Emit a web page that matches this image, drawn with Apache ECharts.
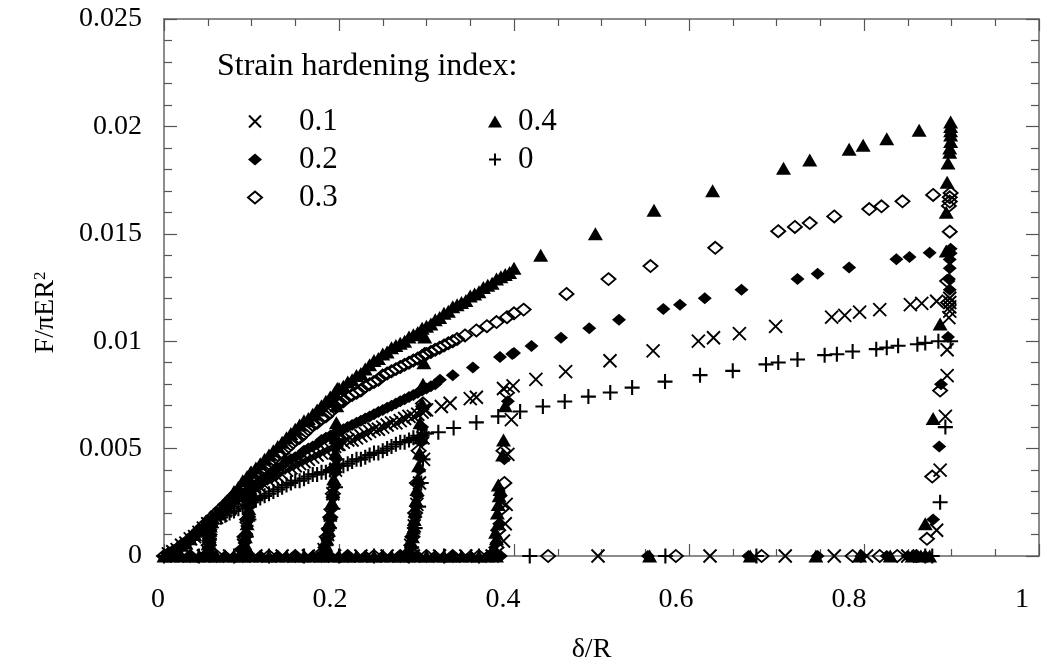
<!DOCTYPE html>
<html><head><meta charset="utf-8">
<script src="https://cdn.jsdelivr.net/npm/echarts@6/dist/echarts.min.js"></script>
<style>html,body{margin:0;padding:0;background:#fff}#c{width:1047px;height:669px}</style>
</head><body><div id="c"></div>
<script>
const FONT = '"Liberation Serif", "Times New Roman", serif';
const seriesNames = ['0.1', '0.2', '0.3', '0.4', '0'];
const legendTitle = 'Strain hardening index:';
const xTickLabels = ['0', '0.2', '0.4', '0.6', '0.8', '1'];

// n = 0.1 (×)
const load01 = [[0.005,0.0001],[0.01,0.0002],[0.02,0.0005],[0.03,0.0008],[0.04,0.0011],[0.05,0.0015],[0.06,0.0018],[0.07,0.0021],[0.08,0.0024],[0.09,0.0027],[0.10,0.0030],[0.11,0.0032],[0.12,0.0035],[0.13,0.0037],[0.14,0.0040],[0.15,0.0042],[0.16,0.0044],[0.17,0.0046],[0.18,0.0048],[0.19,0.0050],[0.20,0.0052],[0.21,0.0054],[0.22,0.0055],[0.23,0.0057],[0.24,0.0059],[0.25,0.0060],[0.26,0.0062],[0.27,0.0063],[0.28,0.0065],[0.29,0.0066],[0.30,0.0068],[0.317,0.00696],[0.327,0.00711],[0.350,0.00733],[0.357,0.00739],[0.388,0.0078],[0.399,0.00792],[0.425,0.00822],[0.459,0.00858],[0.5097,0.00909],[0.559,0.00955],[0.6107,0.0100],[0.628,0.01016],[0.6576,0.01035],[0.699,0.01069],[0.763,0.01112],[0.778,0.0112],[0.795,0.01135],[0.818,0.01147],[0.853,0.0117],[0.866,0.01176],[0.883,0.01186]];
const loadFine01 = [[0.015,0.0003],[0.025,0.0006],[0.035,0.0009],[0.045,0.0013],[0.055,0.0016],[0.065,0.0019],[0.075,0.0022],[0.085,0.0025],[0.095,0.0028],[0.105,0.0031],[0.115,0.0033],[0.125,0.0036],[0.135,0.0038],[0.145,0.0041],[0.155,0.0043],[0.165,0.0045],[0.175,0.0047],[0.185,0.0049],[0.195,0.0051],[0.205,0.0053],[0.215,0.0054],[0.225,0.0056],[0.235,0.0058],[0.245,0.0059],[0.255,0.0061],[0.265,0.0062],[0.275,0.0064],[0.285,0.0065],[0.295,0.0067]];
const unload01 = [[0.053,0.0015],[0.052,0.0009],[0.051,0.0004],[0.099,0.0030],[0.097,0.0021],[0.094,0.0013],[0.091,0.0005],[0.198,0.0052],[0.196,0.0040],[0.193,0.0029],[0.190,0.0019],[0.187,0.0010],[0.183,0.0003],[0.298,0.0068],[0.296,0.0055],[0.2966,0.0045],[0.292,0.0034],[0.289,0.0024],[0.286,0.0014],[0.282,0.0005],[0.397,0.00635],[0.393,0.00473],[0.391,0.0024],[0.390,0.0015],[0.388,0.0007],[0.898,0.0120],[0.898,0.0118],[0.898,0.0116],[0.898,0.0114],[0.897,0.0111],[0.895,0.0096],[0.895,0.0084],[0.893,0.0065],[0.887,0.0040],[0.883,0.0012]];
const zero01 = [[0.015,0],[0.045,0],[0.075,0],[0.105,0],[0.135,0],[0.165,0],[0.195,0],[0.225,0],[0.255,0],[0.285,0],[0.315,0],[0.345,0],[0.375,0],[0.496,0],[0.624,0],[0.710,0],[0.766,0],[0.803,0],[0.850,0]];

// n = 0.2 (filled diamond)
const load02 = [[0.005,0.0001],[0.01,0.0002],[0.02,0.0005],[0.03,0.0008],[0.04,0.0012],[0.05,0.0015],[0.06,0.0019],[0.07,0.0022],[0.08,0.0026],[0.09,0.0029],[0.10,0.0032],[0.11,0.0035],[0.12,0.0038],[0.13,0.0041],[0.14,0.0044],[0.15,0.0046],[0.16,0.0049],[0.17,0.0051],[0.18,0.0054],[0.19,0.0056],[0.20,0.0058],[0.21,0.0060],[0.22,0.0062],[0.23,0.0064],[0.24,0.0066],[0.25,0.0068],[0.26,0.0070],[0.27,0.0072],[0.28,0.0074],[0.29,0.0076],[0.30,0.0078],[0.305,0.0079],[0.31,0.0080],[0.3154,0.0082],[0.330,0.00842],[0.353,0.00878],[0.384,0.00927],[0.400,0.00945],[0.420,0.00978],[0.4537,0.01016],[0.486,0.0106],[0.520,0.0110],[0.5707,0.0115],[0.5897,0.0117],[0.618,0.0120],[0.660,0.0124],[0.724,0.01289],[0.747,0.01314],[0.783,0.01343],[0.837,0.01381],[0.852,0.01392],[0.875,0.01412]];
const loadFine02 = [[0.015,0.0003],[0.025,0.0006],[0.035,0.0010],[0.045,0.0013],[0.055,0.0017],[0.065,0.0020],[0.075,0.0024],[0.085,0.0027],[0.095,0.0030],[0.105,0.0033],[0.115,0.0036],[0.125,0.0039],[0.135,0.0042],[0.145,0.0045],[0.155,0.0047],[0.165,0.0050],[0.175,0.0052],[0.185,0.0055],[0.195,0.0057],[0.205,0.0059],[0.215,0.0061],[0.225,0.0063],[0.235,0.0065],[0.245,0.0067],[0.255,0.0069],[0.265,0.0071],[0.275,0.0073],[0.285,0.0075],[0.295,0.0077]];
const unload02 = [[0.053,0.0015],[0.0525,0.0012],[0.052,0.0009],[0.0515,0.0006],[0.051,0.0004],[0.099,0.0032],[0.0985,0.0027],[0.098,0.0023],[0.097,0.0018],[0.095,0.0014],[0.094,0.0010],[0.092,0.0006],[0.090,0.0003],[0.198,0.0058],[0.1975,0.0051],[0.197,0.0045],[0.196,0.0039],[0.195,0.0033],[0.193,0.0027],[0.192,0.0022],[0.190,0.0017],[0.188,0.0012],[0.186,0.0008],[0.183,0.0004],[0.297,0.0078],[0.296,0.0069],[0.295,0.0060],[0.294,0.0053],[0.293,0.0046],[0.292,0.0040],[0.291,0.0034],[0.290,0.0028],[0.288,0.0023],[0.287,0.0018],[0.285,0.0013],[0.283,0.0009],[0.281,0.0005],[0.398,0.0094],[0.393,0.0072],[0.389,0.0045],[0.385,0.0028],[0.383,0.0015],[0.380,0.0006],[0.899,0.0143],[0.899,0.0141],[0.898,0.0138],[0.898,0.0134],[0.897,0.0129],[0.898,0.0124],[0.896,0.0102],[0.888,0.0080],[0.886,0.0051],[0.879,0.0017]];
const zero02 = [[0.01,0],[0.03,0],[0.05,0],[0.07,0],[0.09,0],[0.11,0],[0.13,0],[0.15,0],[0.17,0],[0.19,0],[0.21,0],[0.23,0],[0.25,0],[0.27,0],[0.29,0],[0.31,0],[0.33,0],[0.35,0],[0.37,0],[0.385,0],[0.553,0],[0.668,0],[0.747,0],[0.797,0],[0.826,0],[0.850,0],[0.860,0],[0.870,0]];

// n = 0.3 (open diamond)
const load03 = [[0.005,0.0001],[0.01,0.0002],[0.02,0.0005],[0.03,0.0008],[0.04,0.0012],[0.05,0.0016],[0.06,0.0020],[0.07,0.0024],[0.08,0.0028],[0.09,0.0032],[0.10,0.0036],[0.11,0.0039],[0.12,0.0043],[0.13,0.0047],[0.14,0.0050],[0.15,0.0054],[0.16,0.0057],[0.17,0.0061],[0.18,0.0064],[0.19,0.0067],[0.20,0.0071],[0.21,0.0074],[0.22,0.0076],[0.23,0.0079],[0.24,0.0081],[0.25,0.0084],[0.26,0.0086],[0.27,0.0088],[0.28,0.0090],[0.29,0.0092],[0.30,0.0094],[0.31,0.0096],[0.32,0.0098],[0.33,0.0100],[0.344,0.01027],[0.357,0.0105],[0.369,0.0107],[0.380,0.01089],[0.392,0.01112],[0.400,0.0113],[0.411,0.01147],[0.460,0.0122],[0.508,0.01289],[0.556,0.0135],[0.630,0.01435],[0.702,0.01512],[0.721,0.01532],[0.738,0.0155],[0.766,0.01581],[0.806,0.01615],[0.820,0.01628],[0.844,0.01651],[0.879,0.01681]];
const loadFine03 = [[0.015,0.0003],[0.025,0.0006],[0.035,0.0010],[0.045,0.0014],[0.055,0.0018],[0.065,0.0022],[0.075,0.0026],[0.085,0.0030],[0.095,0.0034],[0.105,0.0037],[0.115,0.0041],[0.125,0.0045],[0.135,0.0048],[0.145,0.0052],[0.155,0.0055],[0.165,0.0059],[0.175,0.0062],[0.185,0.0065],[0.195,0.0069],[0.205,0.0072],[0.215,0.0075],[0.225,0.0077],[0.235,0.0080],[0.245,0.0082],[0.255,0.0085],[0.265,0.0087],[0.275,0.0089],[0.285,0.0091],[0.295,0.0093],[0.305,0.0095],[0.315,0.0097],[0.325,0.0099],[0.335,0.0101]];
const unload03 = [[0.053,0.0016],[0.052,0.0010],[0.051,0.0005],[0.050,0.0001],[0.099,0.0036],[0.097,0.0026],[0.095,0.0017],[0.092,0.0009],[0.089,0.0003],[0.198,0.0071],[0.197,0.0055],[0.195,0.0041],[0.193,0.0029],[0.190,0.0018],[0.186,0.0009],[0.182,0.0002],[0.298,0.0094],[0.296,0.0071],[0.294,0.0055],[0.291,0.0049],[0.289,0.0034],[0.287,0.0020],[0.284,0.0009],[0.281,0.0002],[0.392,0.0076],[0.388,0.0049],[0.389,0.0034],[0.386,0.0022],[0.382,0.0012],[0.380,0.0004],[0.899,0.0169],[0.898,0.0167],[0.898,0.0165],[0.897,0.0163],[0.898,0.0151],[0.895,0.0128],[0.896,0.0118],[0.887,0.0077],[0.878,0.0037],[0.872,0.0008]];
const zero03 = [[0.00,0],[0.03,0],[0.06,0],[0.09,0],[0.12,0],[0.15,0],[0.18,0],[0.21,0],[0.24,0],[0.27,0],[0.30,0],[0.33,0],[0.36,0],[0.439,0],[0.585,0],[0.683,0],[0.787,0],[0.818,0],[0.838,0],[0.860,0]];

// n = 0.4 (filled triangle)
const load04 = [[0.005,0.0001],[0.01,0.0002],[0.02,0.0005],[0.03,0.0008],[0.04,0.0012],[0.05,0.0016],[0.06,0.0020],[0.07,0.0025],[0.08,0.0030],[0.09,0.0035],[0.10,0.0039],[0.11,0.0043],[0.12,0.0047],[0.13,0.0051],[0.14,0.0055],[0.15,0.0059],[0.16,0.0063],[0.17,0.0066],[0.18,0.0070],[0.19,0.0074],[0.20,0.0078],[0.21,0.0081],[0.22,0.0084],[0.23,0.0087],[0.24,0.0091],[0.25,0.0094],[0.26,0.0097],[0.27,0.0099],[0.28,0.0102],[0.29,0.0104],[0.30,0.0107],[0.31,0.0110],[0.32,0.0113],[0.33,0.0116],[0.34,0.0118],[0.35,0.0121],[0.36,0.0123],[0.37,0.0126],[0.38,0.0129],[0.39,0.0131],[0.40,0.0134],[0.4305,0.0140],[0.493,0.0150],[0.560,0.0161],[0.627,0.0170],[0.708,0.01805],[0.738,0.01843],[0.783,0.01894],[0.799,0.01912],[0.826,0.01943],[0.863,0.01982]];
const loadFine04 = [[0.015,0.0003],[0.025,0.0006],[0.035,0.0010],[0.045,0.0014],[0.055,0.0018],[0.065,0.0022],[0.075,0.0027],[0.085,0.0032],[0.095,0.0037],[0.105,0.0041],[0.115,0.0045],[0.125,0.0049],[0.135,0.0053],[0.145,0.0057],[0.155,0.0061],[0.165,0.0064],[0.175,0.0068],[0.185,0.0072],[0.195,0.0076],[0.205,0.0079],[0.215,0.0082],[0.225,0.0085],[0.235,0.0089],[0.245,0.0092],[0.255,0.0095],[0.265,0.0098],[0.275,0.0100],[0.285,0.0103],[0.295,0.0106],[0.305,0.0108],[0.315,0.0111],[0.325,0.0114],[0.335,0.0117],[0.345,0.0119],[0.355,0.0122],[0.365,0.0125],[0.375,0.0127],[0.385,0.0130],[0.395,0.0132]];
const unload04 = [[0.053,0.0016],[0.053,0.0014],[0.0525,0.0012],[0.052,0.0010],[0.052,0.0008],[0.0515,0.0006],[0.051,0.0004],[0.050,0.0002],[0.050,0.0001],[0.099,0.0039],[0.0985,0.0034],[0.098,0.0030],[0.0975,0.0026],[0.097,0.0022],[0.096,0.0019],[0.095,0.0015],[0.094,0.0012],[0.093,0.0009],[0.092,0.0006],[0.091,0.0004],[0.090,0.0001],[0.198,0.0078],[0.1975,0.0070],[0.197,0.0062],[0.1965,0.0055],[0.196,0.0048],[0.195,0.0042],[0.194,0.0036],[0.193,0.0030],[0.192,0.0025],[0.190,0.0020],[0.189,0.0016],[0.188,0.0012],[0.186,0.0008],[0.185,0.0005],[0.183,0.0003],[0.298,0.0102],[0.297,0.0090],[0.296,0.0080],[0.295,0.0071],[0.2926,0.0062],[0.293,0.0055],[0.292,0.0048],[0.291,0.0042],[0.290,0.0036],[0.289,0.0031],[0.288,0.0026],[0.287,0.0021],[0.286,0.0017],[0.285,0.0013],[0.284,0.0009],[0.283,0.0006],[0.281,0.0003],[0.390,0.0070],[0.388,0.0054],[0.387,0.0047],[0.382,0.0033],[0.384,0.0031],[0.383,0.0028],[0.382,0.0024],[0.381,0.0020],[0.382,0.0015],[0.379,0.0011],[0.380,0.0008],[0.377,0.0004],[0.899,0.0202],[0.899,0.0200],[0.899,0.0198],[0.899,0.0196],[0.899,0.0193],[0.898,0.0190],[0.898,0.0188],[0.896,0.0183],[0.895,0.0174],[0.894,0.0160],[0.894,0.0142],[0.887,0.0108],[0.879,0.0064],[0.870,0.0015]];
const zero04 = [[0.00,0],[0.01,0],[0.02,0],[0.03,0],[0.04,0],[0.05,0],[0.06,0],[0.07,0],[0.08,0],[0.09,0],[0.10,0],[0.11,0],[0.12,0],[0.13,0],[0.14,0],[0.15,0],[0.16,0],[0.17,0],[0.18,0],[0.19,0],[0.20,0],[0.21,0],[0.22,0],[0.23,0],[0.24,0],[0.25,0],[0.26,0],[0.27,0],[0.28,0],[0.29,0],[0.30,0],[0.31,0],[0.32,0],[0.33,0],[0.34,0],[0.35,0],[0.36,0],[0.37,0],[0.38,0],[0.555,0],[0.670,0],[0.745,0],[0.795,0],[0.830,0],[0.855,0],[0.865,0],[0.875,0]];

// n = 0 (+)
const load00 = [[0.005,0.0001],[0.01,0.0002],[0.02,0.0005],[0.03,0.0008],[0.04,0.0011],[0.05,0.0014],[0.06,0.0017],[0.07,0.0019],[0.08,0.0021],[0.09,0.0023],[0.10,0.0025],[0.11,0.0027],[0.12,0.0029],[0.13,0.0031],[0.14,0.0033],[0.15,0.0035],[0.16,0.0036],[0.17,0.0038],[0.18,0.0039],[0.19,0.0040],[0.20,0.0042],[0.21,0.0043],[0.22,0.0045],[0.23,0.0046],[0.24,0.0048],[0.25,0.0049],[0.26,0.0051],[0.27,0.0053],[0.28,0.0054],[0.29,0.0056],[0.30,0.0057],[0.3135,0.00576],[0.331,0.00596],[0.357,0.00622],[0.382,0.0065],[0.407,0.00673],[0.433,0.00696],[0.458,0.00719],[0.485,0.00742],[0.510,0.00761],[0.535,0.00784],[0.5726,0.00812],[0.6126,0.00842],[0.650,0.00862],[0.688,0.00892],[0.702,0.00901],[0.724,0.00915],[0.755,0.00935],[0.769,0.00939],[0.787,0.00952],[0.814,0.00963],[0.826,0.0097],[0.839,0.00979],[0.861,0.00986],[0.870,0.00992],[0.885,0.0100]];
const loadFine00 = [[0.015,0.0003],[0.025,0.0006],[0.035,0.0009],[0.045,0.0012],[0.055,0.0015],[0.065,0.0018],[0.075,0.0020],[0.085,0.0022],[0.095,0.0024],[0.105,0.0026],[0.115,0.0028],[0.125,0.0030],[0.135,0.0032],[0.145,0.0034],[0.155,0.0035],[0.165,0.0037],[0.175,0.0038],[0.185,0.0039],[0.195,0.0041],[0.205,0.0042],[0.215,0.0044],[0.225,0.0045],[0.235,0.0047],[0.245,0.0048],[0.255,0.0050],[0.265,0.0052],[0.275,0.0053],[0.285,0.0055],[0.295,0.0056]];
const unload00 = [[0.053,0.0014],[0.052,0.0008],[0.051,0.0003],[0.099,0.0025],[0.097,0.0017],[0.094,0.0009],[0.091,0.0003],[0.198,0.0042],[0.196,0.0032],[0.193,0.0022],[0.189,0.0013],[0.185,0.0005],[0.298,0.0057],[0.296,0.0045],[0.294,0.0034],[0.291,0.0023],[0.287,0.0013],[0.283,0.0004],[0.899,0.0100],[0.893,0.0060],[0.887,0.0025]];
const zero00 = [[0.00,0],[0.04,0],[0.08,0],[0.12,0],[0.16,0],[0.20,0],[0.24,0],[0.28,0],[0.32,0],[0.36,0],[0.418,0],[0.573,0],[0.677,0],[0.870,0],[0.878,0]];

const CROSS = 'path://M0,0L10,10M10,0L0,10';
const PLUS = 'path://M5,0L5,10M0,5L10,5';
const hollow = (w) => ({ color: 'rgba(0,0,0,0)', borderColor: '#000', borderWidth: w, opacity: 1 });
const solid = { color: '#000', opacity: 1 };

const seriesDefs = [
  { name: seriesNames[0], data: load01.concat(loadFine01, unload01, zero01), symbol: CROSS, symbolSize: 13, itemStyle: hollow(1.9) },
  { name: seriesNames[1], data: load02.concat(loadFine02, unload02, zero02), symbol: 'diamond', symbolSize: [14, 12], itemStyle: solid },
  { name: seriesNames[2], data: load03.concat(loadFine03, unload03, zero03), symbol: 'diamond', symbolSize: [14, 12], itemStyle: hollow(1.9) },
  { name: seriesNames[3], data: load04.concat(loadFine04, unload04, zero04), symbol: 'triangle', symbolSize: [15, 13], itemStyle: solid },
  { name: seriesNames[4], data: load00.concat(loadFine00, unload00, zero00), symbol: PLUS, symbolSize: 15, itemStyle: hollow(2.1) }
];

const axisLineStyle = { color: '#666', width: 1.5 };
const tickStyle = { color: '#555', width: 1.2 };
const labelShift = [12, 18, 22, 26, 30, 34];
const xRich = {};
labelShift.forEach((p, i) => { xRich['l' + i] = { color: '#000', fontFamily: FONT, fontSize: 28, padding: [0, p, 0, 0] }; });

function frameX(pos, showLabel) {
  return {
    type: 'value', min: 0, max: 1, interval: 0.2, position: pos,
    axisLine: { show: true, onZero: false, lineStyle: axisLineStyle },
    axisTick: { show: true, inside: true, length: 12, lineStyle: tickStyle },
    minorTick: { show: true, splitNumber: 4, length: 7, lineStyle: tickStyle },
    splitLine: { show: false }, minorSplitLine: { show: false },
    axisLabel: {
      show: showLabel, color: '#000', fontFamily: FONT, fontSize: 28, margin: 30,
      formatter: (v, i) => '{l' + i + '|' + xTickLabels[i] + '}', rich: xRich
    }
  };
}
function frameY(pos, showLabel) {
  return {
    type: 'value', min: 0, max: 0.025, interval: 0.005, position: pos,
    axisLine: { show: true, onZero: false, lineStyle: axisLineStyle },
    axisTick: { show: true, inside: true, length: 13, lineStyle: tickStyle },
    minorTick: { show: true, splitNumber: 5, length: 8, lineStyle: tickStyle },
    splitLine: { show: false }, minorSplitLine: { show: false },
    axisLabel: { show: showLabel, color: '#000', fontFamily: FONT, fontSize: 28, margin: 22 }
  };
}

const xBottom = Object.assign(frameX('bottom', true), {
  name: 'δ/R', nameLocation: 'middle', nameGap: 80,
  nameTextStyle: { color: '#000', fontFamily: FONT, fontSize: 28, padding: [0, 20, 0, 0] }
});
const yLeft = Object.assign(frameY('left', true), {
  name: 'F/πER{sup|2}', nameLocation: 'middle', nameGap: 104, nameRotate: 90,
  nameTextStyle: {
    color: '#000', fontFamily: FONT, fontSize: 28, padding: [0, 50, 0, 0],
    rich: { sup: { color: '#000', fontFamily: FONT, fontSize: 17, lineHeight: 16, verticalAlign: 'top' } }
  }
});

const legendBase = { orient: 'vertical', top: 101, itemWidth: 14, itemHeight: 12, itemGap: 7, selectedMode: false };
const legendText = (pad) => ({ color: '#000', fontFamily: FONT, fontSize: 31, lineHeight: 30, padding: [0, 0, 0, pad] });

const chart = echarts.init(document.getElementById('c'), null, { renderer: 'canvas' });
chart.setOption({
  animation: false,
  backgroundColor: '#fff',
  title: {
    text: legendTitle, left: 212, top: 46,
    textStyle: { color: '#000', fontFamily: FONT, fontSize: 32, fontWeight: 'normal' }
  },
  legend: [
    Object.assign({ data: seriesNames.slice(0, 3), left: 242, textStyle: legendText(32) }, legendBase),
    Object.assign({ data: seriesNames.slice(3), left: 483, textStyle: legendText(11) }, legendBase)
  ],
  grid: { left: 164, right: 8, top: 19, bottom: 108 },
  xAxis: [xBottom, frameX('top', false)],
  yAxis: [yLeft, frameY('right', false)],
  series: seriesDefs.map(s => Object.assign({ type: 'scatter', xAxisIndex: 0, yAxisIndex: 0 }, s))
});
</script>
</body></html>
